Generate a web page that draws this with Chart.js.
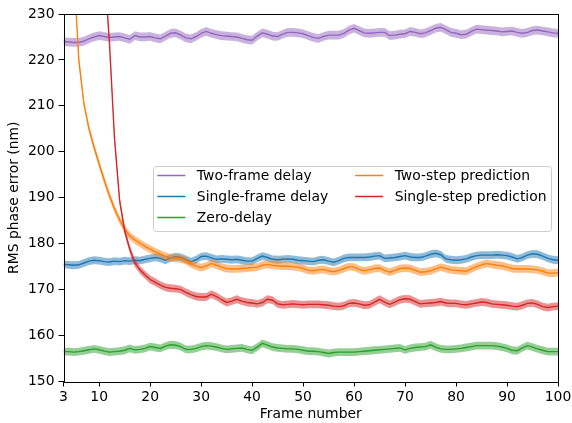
<!DOCTYPE html>
<html>
<head>
<meta charset="utf-8">
<script src="https://cdn.jsdelivr.net/npm/chart.js@4.4.1/dist/chart.umd.min.js"></script>
<style>
  html, body { margin: 0; padding: 0; background: #fff; }
  #wrap { width: 572px; height: 423px; }
</style>
</head>
<body>
<div id="wrap"><canvas id="c" width="572" height="423"></canvas></div>
<script>
// ---- Daten ----
const frames = [
  3, 4, 5, 6, 7, 8, 9, 10, 11, 12,
  13, 14, 15, 16, 17, 18, 19, 20, 21, 22,
  23, 24, 25, 26, 27, 28, 29, 30, 31, 32,
  33, 34, 35, 36, 37, 38, 39, 40, 41, 42,
  43, 44, 45, 46, 47, 48, 49, 50, 51, 52,
  53, 54, 55, 56, 57, 58, 59, 60, 61, 62,
  63, 64, 65, 66, 67, 68, 69, 70, 71, 72,
  73, 74, 75, 76, 77, 78, 79, 80, 81, 82,
  83, 84, 85, 86, 87, 88, 89, 90, 91, 92,
  93, 94, 95, 96, 97, 98, 99, 100
];
const xTicks = [3, 10, 20, 30, 40, 50, 60, 70, 80, 90, 100];

const twoFrameDelay = [
  224.0, 223.9, 223.8, 223.8, 224.1, 224.6, 225.0, 225.3, 225.1, 224.9,
  225.0, 225.1, 224.8, 224.5, 225.3, 225.0, 225.0, 225.1, 224.8, 224.6,
  225.2, 225.8, 225.9, 225.4, 224.8, 224.6, 225.1, 225.8, 226.2, 225.8,
  225.5, 225.3, 225.2, 225.1, 225.0, 224.7, 224.4, 224.3, 225.2, 225.9,
  225.6, 225.2, 225.1, 225.6, 226.0, 226.0, 225.9, 225.7, 225.3, 224.9,
  224.7, 225.1, 225.4, 225.4, 225.4, 225.8, 226.5, 226.9, 226.4, 225.9,
  225.8, 225.9, 226.0, 226.0, 225.3, 225.4, 225.6, 225.7, 226.2, 226.0,
  225.7, 225.9, 226.4, 226.9, 227.1, 226.6, 226.0, 225.8, 225.5, 225.6,
  226.2, 226.7, 226.6, 226.5, 226.4, 226.3, 226.1, 226.2, 226.3, 226.0,
  225.8, 226.0, 226.4, 226.5, 226.3, 226.1, 225.9, 225.8
];
const singleFrameDelay = [
  175.5, 175.4, 175.3, 175.4, 175.8, 176.2, 176.4, 176.3, 176.1, 176.0,
  176.2, 176.1, 176.3, 176.2, 176.4, 176.3, 176.6, 176.8, 177.0, 176.8,
  176.4, 176.9, 177.2, 177.0, 176.6, 176.1, 176.5, 177.2, 177.3, 176.9,
  176.6, 176.7, 176.6, 176.5, 176.6, 176.4, 176.2, 176.2, 176.8, 177.3,
  177.0, 176.6, 176.5, 176.6, 176.7, 176.6, 176.4, 176.3, 176.2, 176.1,
  176.4, 176.5, 176.2, 175.95, 176.3, 176.8, 177.0, 177.0, 177.0, 177.0,
  177.1, 177.3, 177.4, 176.8, 176.9, 177.0, 177.2, 177.4, 177.1, 177.0,
  177.0, 177.3, 177.7, 177.9, 177.6, 176.7, 176.5, 176.4, 176.5, 176.7,
  177.1, 177.4, 177.5, 177.5, 177.5, 177.6, 177.5, 177.4, 177.1, 176.7,
  177.0, 177.5, 177.8, 177.7, 177.3, 176.8, 176.5, 176.4
];
const zeroDelay = [
  156.5, 156.5, 156.4, 156.5, 156.7, 156.9, 157.1, 156.9, 156.6, 156.4,
  156.5, 156.6, 156.8, 157.2, 156.9, 157.0, 157.2, 157.6, 157.4, 157.2,
  157.7, 158.0, 157.9, 157.6, 157.0, 157.0, 157.2, 157.6, 157.8, 157.7,
  157.5, 157.2, 157.0, 157.1, 157.2, 157.3, 157.0, 156.8, 157.5, 158.3,
  157.9, 157.5, 157.3, 157.2, 157.1, 157.1, 157.0, 156.8, 156.6, 156.6,
  156.5, 156.3, 156.1, 156.3, 156.4, 156.4, 156.4, 156.4, 156.5, 156.6,
  156.7, 156.8, 156.9, 157.0, 157.1, 157.2, 157.3, 156.9, 157.2, 157.4,
  157.5, 157.6, 158.0, 157.5, 157.1, 157.0, 157.0, 157.1, 157.2, 157.4,
  157.6, 157.8, 157.8, 157.8, 157.8, 157.7, 157.5, 157.2, 156.8, 156.7,
  157.3, 157.8, 157.5, 157.1, 156.8, 156.5, 156.5, 156.5
];
const twoStepPrediction = [
  300, 268, 240, 220, 210.5, 205, 201, 197.3, 193.8, 190.5,
  187.6, 185.2, 183.2, 181.7, 180.8, 180.1, 179.4, 178.8, 178.2, 177.7,
  177.3, 176.9, 176.8, 176.7, 176.3, 175.6, 175.1, 174.8, 175.1, 175.7,
  175.3, 174.9, 174.6, 174.5, 174.5, 174.6, 174.7, 174.8, 174.9, 175.3,
  175.5, 175.3, 175.2, 175.1, 175.1, 175.0, 174.9, 174.6, 174.2, 174.1,
  174.3, 174.4, 174.1, 173.9, 174.2, 174.6, 175.0, 174.9, 174.4, 174.1,
  174.3, 174.6, 174.7, 174.2, 173.8, 174.2, 174.6, 174.7, 174.6, 174.2,
  173.8, 173.9, 174.1, 174.5, 174.9, 174.6, 174.3, 174.2, 174.1, 174.0,
  174.5, 175.0, 175.4, 175.7, 175.5, 175.3, 175.2, 174.9, 174.6, 174.5,
  174.5, 174.5, 174.4, 174.3, 174.0, 173.6, 173.6, 173.7
];
const singleStepPrediction = [
  null, null, null, null, null, null, null, null, 240, 224,
  203, 189.5, 182.8, 178.8, 175.8, 174.3, 173.2, 172.2, 171.6, 171.0,
  170.5, 170.3, 170.2, 170.0, 169.4, 168.9, 168.5, 168.4, 168.4, 169.0,
  168.5, 167.8, 167.2, 167.5, 167.9, 167.5, 167.2, 167.1, 166.9, 167.2,
  167.9, 167.7, 166.9, 166.7, 166.8, 166.9, 166.8, 166.7, 166.8, 166.8,
  166.8, 166.7, 166.6, 166.4, 166.3, 166.5, 167.0, 167.1, 166.9, 166.6,
  166.7, 167.3, 167.9, 167.3, 166.8, 167.3, 167.8, 168.0, 167.9, 167.4,
  166.9, 167.0, 167.1, 167.2, 167.4, 167.1, 167.0, 167.0, 166.8, 166.7,
  166.9, 167.1, 167.3, 167.2, 166.9, 166.8, 166.7, 166.6, 166.4, 166.3,
  166.6, 167.0, 167.1, 166.8, 166.3, 166.1, 166.3, 166.4
];

const seriesNames  = ["Two-frame delay", "Single-frame delay", "Zero-delay",
                      "Two-step prediction", "Single-step prediction"];
const seriesValues = [twoFrameDelay, singleFrameDelay, zeroDelay,
                      twoStepPrediction, singleStepPrediction];
// halbe Breite des Unsicherheitsbandes (nm)
const bandHalfWidth = [0.95, 0.85, 0.85, 0.85, 0.85];
const seriesColors = ["148,103,189", "31,119,180", "44,160,44", "255,127,14", "214,39,40"];

// ---- Datasets (Band oben/unten + Linie je Serie) ----
const datasets = [];
seriesValues.forEach((vals, i) => {
  const h = bandHalfWidth[i];
  const pts   = frames.map((f, k) => ({ x: f, y: vals[k] }));
  const upper = frames.map((f, k) => ({ x: f, y: vals[k] == null ? null : vals[k] + h }));
  const lower = frames.map((f, k) => ({ x: f, y: vals[k] == null ? null : vals[k] - h }));
  const base = 3 * (seriesValues.length - 1 - i); // spaetere Serien oben
  const common = { pointRadius: 0, tension: 0, clip: 0, isBand: true };
  datasets.push({ ...common, label: "up", data: upper, borderWidth: 0,
                  borderColor: "rgba(0,0,0,0)", fill: false, order: base + 2 });
  datasets.push({ ...common, label: "lo", data: lower, borderWidth: 0,
                  borderColor: "rgba(0,0,0,0)", fill: "-1",
                  backgroundColor: `rgba(${seriesColors[i]},0.5)`, order: base + 1 });
  datasets.push({
    label: seriesNames[i], data: pts, isBand: false, fill: false,
    borderColor: `rgb(${seriesColors[i]})`, borderWidth: 1.4,
    pointRadius: 0, tension: 0, clip: 0, order: base
  });
});

// ---- Plugins ----
const frame = {
  id: "frame",
  afterDraw(chart) {
    const { ctx, chartArea: a } = chart;
    ctx.save();
    ctx.strokeStyle = "#000";
    ctx.lineWidth = 1;
    ctx.strokeRect(Math.round(a.left) + 0.5, Math.round(a.top) + 0.5,
                   Math.round(a.right - a.left) - 1, Math.round(a.bottom - a.top));
    ctx.restore();
  }
};

const boxLegend = {
  id: "boxLegend",
  afterDraw(chart) {
    const { ctx, chartArea: a } = chart;
    const items = chart.data.datasets.filter(d => !d.isBand);
    const cols = [items.slice(0, 3), items.slice(3)];
    ctx.save();
    ctx.font = '13.9px "DejaVu Sans"';
    const widths = cols.map(c => Math.max(...c.map(d => ctx.measureText(d.label).width)));
    const pad = 4.5, handle = 28, textPad = 11.5, colGap = 27, rowH = 21;
    const boxW = pad * 2 + (handle + textPad) * 2 + widths[0] + widths[1] + colGap;
    const boxH = 64.5;
    const x0 = a.right - 7 - boxW;
    const y0 = (a.top + a.bottom) / 2 - boxH / 2;

    ctx.beginPath();
    ctx.roundRect(Math.round(x0) + 0.5, Math.round(y0) + 0.5, Math.round(boxW), Math.round(boxH), 3);
    ctx.fillStyle = "rgba(255,255,255,0.8)";
    ctx.fill();
    ctx.strokeStyle = "#cccccc";
    ctx.lineWidth = 1;
    ctx.stroke();

    let cx = x0 + pad;
    cols.forEach((col, ci) => {
      col.forEach((d, r) => {
        const cy = y0 + 10 + r * rowH;
        ctx.beginPath();
        ctx.moveTo(cx, cy);
        ctx.lineTo(cx + handle, cy);
        ctx.strokeStyle = d.borderColor;
        ctx.lineWidth = 1.5;
        ctx.stroke();
        ctx.fillStyle = "#000";
        ctx.textBaseline = "middle";
        ctx.textAlign = "left";
        ctx.fillText(d.label, cx + handle + textPad, cy + 0.5);
      });
      cx += handle + textPad + widths[ci] + colGap;
    });
    ctx.restore();
  }
};

// ---- Chart ----
Chart.defaults.font.family = '"DejaVu Sans", sans-serif';
Chart.defaults.font.size = 13.9;
Chart.defaults.color = "#000";

new Chart(document.getElementById("c").getContext("2d"), {
  type: "line",
  data: { datasets },
  options: {
    responsive: false,
    animation: false,
    devicePixelRatio: 1,
    layout: { padding: { top: 14, right: 14, left: 0, bottom: 0 } },
    plugins: {
      legend: { display: false },
      tooltip: { enabled: false },
      filler: { drawTime: "beforeDatasetDraw" }
    },
    scales: {
      x: {
        type: "linear", min: 3, max: 100,
        afterBuildTicks: (s) => { s.ticks = xTicks.map(v => ({ value: v })); },
        afterFit: (s) => { s.height = 41.5; s.paddingRight = 0; s.paddingLeft = 0; },
        ticks: { padding: 3, maxRotation: 0, autoSkip: false },
        grid: { drawOnChartArea: false, drawTicks: true, tickLength: 5, tickColor: "#000" },
        border: { display: false },
        title: { display: true, text: "Frame number", padding: { top: 0, bottom: 0 } }
      },
      y: {
        min: 150, max: 230,
        ticks: { stepSize: 10, padding: 4 },
        afterFit: (s) => { s.width = 63.5; },
        grid: { drawOnChartArea: false, drawTicks: true, tickLength: 5, tickColor: "#000" },
        border: { display: false },
        title: { display: true, text: "RMS phase error (nm)", padding: { top: 6, bottom: 0 } }
      }
    }
  },
  plugins: [frame, boxLegend]
});
</script>
</body>
</html>
